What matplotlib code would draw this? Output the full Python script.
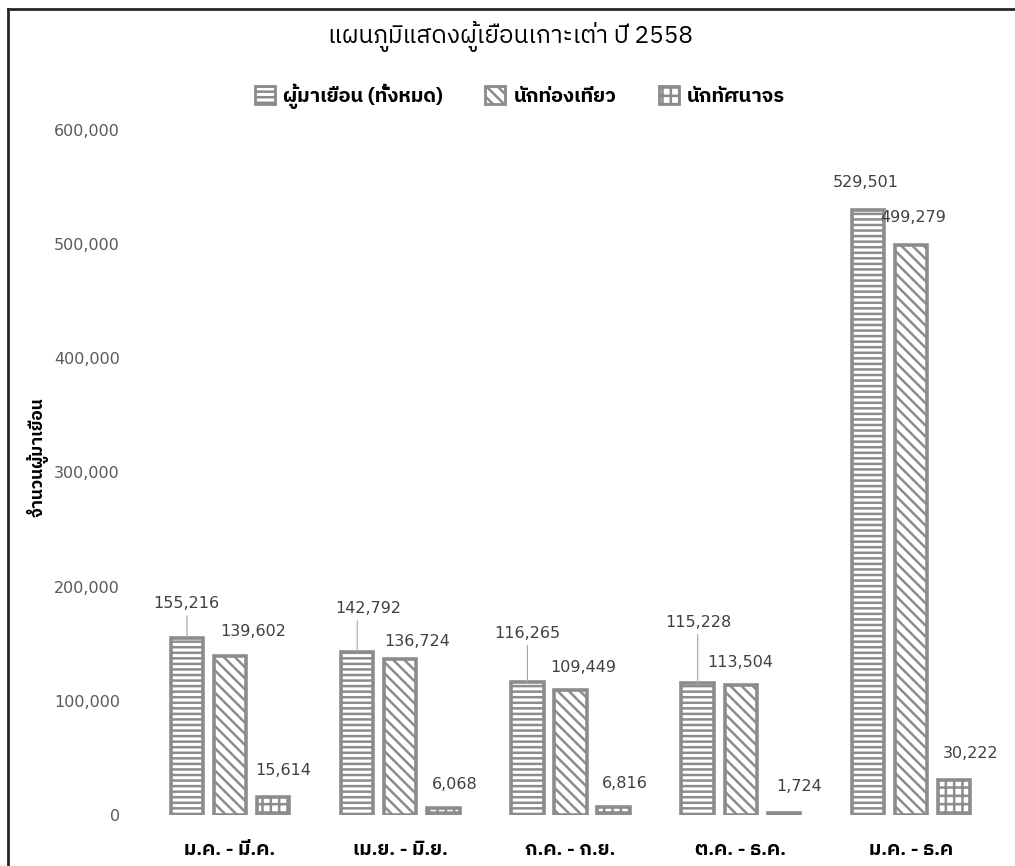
import numpy as np
import matplotlib
matplotlib.use("Agg")
import matplotlib.pyplot as plt
from matplotlib import font_manager
from matplotlib.ft2font import FT2Font
from matplotlib.patches import Patch
from matplotlib.lines import Line2D

# data
categories = ["ม.ค. - มี.ค.", "เม.ย. - มิ.ย.", "ก.ค. - ก.ย.", "ต.ค. - ธ.ค.", "ม.ค. - ธ.ค"]
series_names = ["ผู้มาเยือน (ทั้งหมด)", "นักท่องเที่ยว", "นักทัศนาจร"]
visitors = [155216, 142792, 116265, 115228, 529501]
tourists = [139602, 136724, 109449, 113504, 499279]
excursionists = [15614, 6068, 6816, 1724, 30222]
yticks = [0, 100000, 200000, 300000, 400000, 500000, 600000]


def find_thai_font():
    names = []
    for f in font_manager.fontManager.ttflist:
        try:
            if 0x0E01 in FT2Font(f.fname).get_charmap():
                names.append(f.name)
        except Exception:
            pass
    names = sorted(set(names), key=lambda n: (("Thai" not in n), ("Sans" not in n), n))
    return names[0] if names else "DejaVu Sans"


thai = find_thai_font()
thai_family = [thai, "DejaVu Sans"]
plt.rcParams["font.family"] = thai_family
plt.rcParams["hatch.linewidth"] = 1.8

W, H = 1015, 866
fig = plt.figure(figsize=(W / 100, H / 100), dpi=100)
ax = fig.add_axes([145 / W, 1 - 815 / H, 851 / W, 685 / H])

x = np.arange(len(categories))
edge = "#8c8c8c"
bw = 0.19
step = 0.253
hatches = ["---", "\\\\\\", "++"]
all_series = [visitors, tourists, excursionists]

# label offsets in pixels (dx, dy) from the top of each bar
label_offsets = [
    [(-1, 34), (11, 43), (0, 49), (1, 61), (-2, 28)],
    [(23, 24), (17, 17), (13, 23), (0, 23), (2, 27)],
    [(10, 27), (11, 24), (11, 24), (15, 27), (17, 27)],
]

for i, vals in enumerate(all_series):
    pos = x + (i - 1) * step
    ax.bar(pos, vals, width=bw, facecolor="white", edgecolor=edge,
           linewidth=2.6, hatch=hatches[i], zorder=2)
    for j, v in enumerate(vals):
        dx, dy = label_offsets[i][j]
        ax.annotate(f"{v:,}", xy=(pos[j], v), xytext=(dx, dy),
                    textcoords="offset pixels", ha="center", va="center",
                    fontsize=11.5, color="#404040", family=["DejaVu Sans"])
        if i == 0 and dy > 32:
            # leader line straight up from the bar top
            ax.annotate("", xy=(pos[j], v), xytext=(0, dy - 12),
                        textcoords="offset pixels",
                        arrowprops=dict(arrowstyle="-", color="#a6a6a6", lw=0.8,
                                        shrinkA=0, shrinkB=0))

ax.set_xlim(-0.5, len(categories) - 0.5)
ax.set_ylim(0, 600000)
ax.set_yticks(yticks)
ax.set_yticklabels([f"{t:,}" for t in yticks], family=["DejaVu Sans"],
                   fontsize=11.5, color="#595959")
ax.set_xticks(x)
ax.set_xticklabels(categories, fontsize=14, color="black", fontweight="bold")
ax.tick_params(axis="y", length=0, pad=18)
ax.tick_params(axis="x", length=0, pad=19)
for s in ax.spines.values():
    s.set_visible(False)

fig.text(510 / W, 1 - 36 / H, "แผนภูมิแสดงผู้เยือนเกาะเต่า ปี 2558",
         ha="center", va="center", fontsize=17.5, color="black")
fig.text(38 / W, 1 - 457 / H, "จำนวนผู้มาเยือน", rotation=90,
         ha="center", va="center", fontsize=12.5, color="black", fontweight="bold")

handles = [Patch(facecolor="white", edgecolor="#8a8a8a", linewidth=2.0, hatch=hatches[k])
           for k in range(3)]
fig.legend(handles, series_names, loc="center", bbox_to_anchor=(520 / W, 1 - 96 / H),
           ncol=3, frameon=False, handlelength=1.0, handleheight=1.0,
           handletextpad=0.4, columnspacing=2.1,
           prop={"family": thai_family, "size": 14.5, "weight": "bold"})

# outer chart border (cropped picture)
fig.add_artist(Line2D([8 / W, 8 / W], [0, 1 - 9 / H], color="#262626", lw=2))
fig.add_artist(Line2D([8 / W, 1], [1 - 9 / H, 1 - 9 / H], color="#262626", lw=2))

fig.savefig("out.png", dpi=100)
